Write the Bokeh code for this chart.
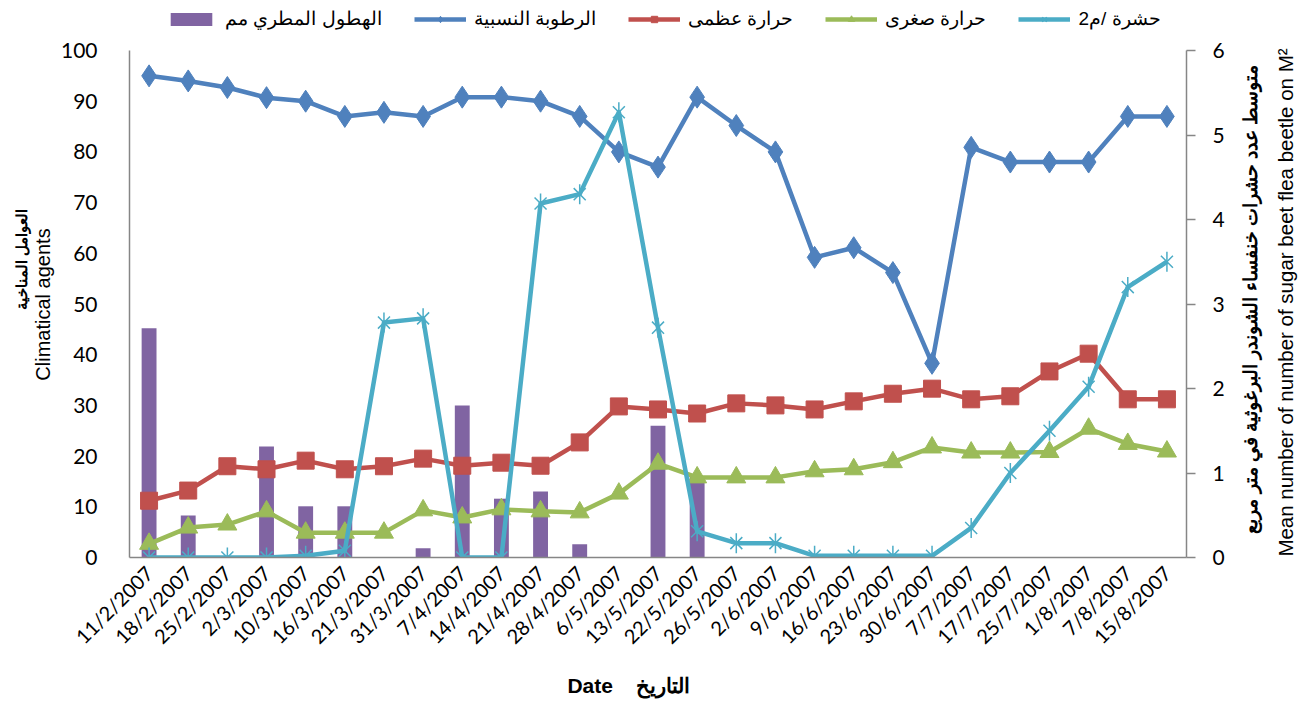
import math
from bokeh.plotting import figure
from bokeh.layouts import row
from bokeh.models import (FactorRange, Range1d, LinearAxis, FixedTicker, Legend, LegendItem, Label)
from bokeh.embed import file_html
from bokeh.resources import INLINE

dates = ["11/2/2007", "18/2/2007", "25/2/2007", "2/3/2007", "10/3/2007", "16/3/2007",
         "21/3/2007", "31/3/2007", "7/4/2007", "14/4/2007", "21/4/2007", "28/4/2007",
         "6/5/2007", "13/5/2007", "22/5/2007", "26/5/2007", "2/6/2007", "9/6/2007",
         "16/6/2007", "23/6/2007", "30/6/2007", "7/7/2007", "17/7/2007", "25/7/2007",
         "1/8/2007", "7/8/2007", "15/8/2007"]

rainfall = [45.2, 8.3, 0, 21.9, 10.1, 10.1, 0, 1.8, 30, 11.6, 13, 2.6, 0, 26, 16,
            0, 0, 0, 0, 0, 0, 0, 0, 0, 0, 0, 0]
humidity = [95, 94, 92.7, 90.7, 90, 87, 87.8, 87, 90.8, 90.8, 90, 87, 80, 77, 90.8,
            85.2, 80, 59.2, 61.1, 56.2, 38.3, 80.9, 78, 78, 78, 87, 87]
max_temp = [11.2, 13.2, 18, 17.4, 19.1, 17.4, 18, 19.5, 18.1, 18.7, 18.1, 22.7, 29.8,
            29.2, 28.4, 30.4, 30, 29.2, 30.8, 32.3, 33.3, 31.2, 31.8, 36.7, 40.2, 31.2, 31.2]
min_temp = [2.7, 5.9, 6.5, 9.1, 4.9, 4.9, 4.9, 9.3, 7.9, 9.5, 9.1, 8.9, 12.6, 18.5,
            15.8, 15.8, 15.8, 17.0, 17.4, 18.8, 21.7, 20.7, 20.7, 20.8, 25.4, 22.4, 20.9]
insects = [0, 0, 0, 0, 0.02, 0.08, 2.78, 2.83, 0, 0, 4.19, 4.3, 5.27, 2.72, 0.31,
           0.17, 0.17, 0.02, 0.02, 0.02, 0.02, 0.35, 1.0, 1.5, 2.02, 3.2, 3.5]

left_ticks = [0, 10, 20, 30, 40, 50, 60, 70, 80, 90, 100]
right_ticks = [0, 1, 2, 3, 4, 5, 6]
left_max, right_max = 100, 6

names = ["الهطول المطري مم", "الرطوبة النسبية", "حرارة عظمى", "حرارة صغرى", "حشرة /م2"]
left_title_ar = "العوامل المناخية"
left_title_en = "Climatical agents"
right_title_ar = "متوسط  عدد حشرات خنفساء الشوندر البرغوثية في متر مربع"
right_title_en = "Mean number of number of sugar beet flea beetle on M²"
x_title = "Date\u00a0\u00a0\u00a0\u00a0التاريخ" + "\u00a0" * 10

PURPLE = "#8064A2"
BLUE = "#4F81BD"
RED = "#C0504D"
GREEN = "#9BBB59"
CYAN = "#4BACC6"
AXIS = "#868686"

# ---- layout in page pixels ----
H = 700
LW, RW = 55, 65            # side strips that carry the rotated axis titles
MW = 1180                  # main figure width (page x 55 .. 1235)
FL, FR, FB = 129, 1186, 557
AXIS_TOP = 50              # where the top of the value axes sits
FT = 0                     # frame extended to the top so the legend can sit inside it
scale = (FB - FT) / (FB - AXIS_TOP)

p = figure(width=MW, height=H, x_range=FactorRange(factors=dates),
           y_range=Range1d(0, left_max * scale),
           output_backend="svg", toolbar_location=None,
           min_border_left=FL - LW, min_border_right=LW + MW - FR, min_border_top=FT,
           min_border_bottom=H - FB)
p.extra_y_ranges = {"right": Range1d(0, right_max * scale)}
p.outline_line_color = None
p.xgrid.grid_line_color = None
p.ygrid.grid_line_color = None

bars = p.vbar(x=dates, top=rainfall, width=0.38, fill_color=PURPLE, line_color=None)
l_h = p.line(dates, humidity, line_color=BLUE, line_width=4.5, line_join="round")
m_h = p.scatter(dates, humidity, marker="diamond", size=22, fill_color=BLUE, line_color=BLUE)
l_mx = p.line(dates, max_temp, line_color=RED, line_width=4.5, line_join="round")
m_mx = p.scatter(dates, max_temp, marker="square", size=17, fill_color=RED, line_color=RED)
l_mn = p.line(dates, min_temp, line_color=GREEN, line_width=4.5, line_join="round")
m_mn = p.scatter(dates, min_temp, marker="triangle", size=19, fill_color=GREEN, line_color=GREEN)
l_i = p.line(dates, insects, line_color=CYAN, line_width=4.5, line_join="round", y_range_name="right")
m_i1 = p.scatter(dates, insects, marker="x", size=17, line_color=CYAN, line_width=1.5, y_range_name="right")
m_i2 = p.scatter(dates, insects, marker="dash", size=20, angle=math.pi / 2, line_color=CYAN,
                 line_width=1.5, y_range_name="right")

# x axis
xa = p.xaxis[0]
xa.major_label_orientation = math.pi / 4
xa.major_tick_line_color = None
xa.minor_tick_line_color = None
xa.axis_line_color = AXIS
xa.axis_line_width = 1.5
xa.major_label_text_font = "Lato"
xa.major_label_text_font_size = "20px"
xa.major_label_text_color = "black"
xa.major_label_standoff = 6
xa.axis_label = x_title
xa.axis_label_text_font = "Liberation Sans"
xa.axis_label_text_font_style = "bold"
xa.axis_label_text_font_size = "21px"
xa.axis_label_text_color = "black"
xa.axis_label_standoff = 14

# left axis
ya = p.yaxis[0]
ya.ticker = FixedTicker(ticks=left_ticks)
ya.bounds = (0, left_max)
ya.major_tick_line_color = None
ya.minor_tick_line_color = None
ya.axis_line_color = AXIS
ya.axis_line_width = 1.5
ya.major_label_text_font = "Lato"
ya.major_label_text_font_size = "21px"
ya.major_label_text_color = "black"
ya.major_label_standoff = 26

# right axis
ra = LinearAxis(y_range_name="right", ticker=FixedTicker(ticks=right_ticks), bounds=(0, right_max))
ra.major_tick_line_color = AXIS
ra.major_tick_line_width = 1.5
ra.major_tick_out = 9
ra.major_tick_in = 0
ra.minor_tick_line_color = None
ra.axis_line_color = AXIS
ra.axis_line_width = 1.5
ra.major_label_text_font = "Lato"
ra.major_label_text_font_size = "21px"
ra.major_label_text_color = "black"
ra.major_label_standoff = 17
p.add_layout(ra, "right")

# legend at the top, inside the extended frame
legend = Legend(items=[
    LegendItem(label=names[0], renderers=[bars]),
    LegendItem(label=names[1], renderers=[l_h, m_h]),
    LegendItem(label=names[2], renderers=[l_mx, m_mx]),
    LegendItem(label=names[3], renderers=[l_mn, m_mn]),
    LegendItem(label=names[4], renderers=[l_i, m_i1, m_i2]),
], orientation="horizontal", location=(36, FB - 30), glyph_width=52, glyph_height=16,
    label_standoff=8, spacing=32, padding=2, margin=0, border_line_color=None,
    background_fill_alpha=0, label_text_font="Liberation Sans", label_text_font_size="19px",
    label_text_color="black")
p.add_layout(legend, "center")


def strip(width):
    f = figure(width=width, height=H, output_backend="svg", toolbar_location=None,
               x_axis_type=None, y_axis_type=None, min_border=0)
    f.outline_line_color = None
    f.xgrid.grid_line_color = None
    f.ygrid.grid_line_color = None
    return f


def title(f, text, x, y_page, size, style):
    # the strips' frames line up with the main frame (top 0, bottom FB)
    f.add_layout(Label(x=x, y=FB - y_page, x_units="screen", y_units="screen", text=text,
                       angle=math.pi / 2, text_align="center", text_baseline="middle",
                       text_font="Liberation Sans", text_font_size=size,
                       text_font_style=style, text_color="black"))


left = strip(LW)
title(left, left_title_ar, 21, 259, "15px", "bold")
title(left, left_title_en, 42, 304, "20px", "normal")

right = strip(RW)
title(right, right_title_ar, 1250 - (LW + MW), 296, "19px", "bold")
title(right, right_title_en, 1285 - (LW + MW), 302, "20.5px", "normal")

layout = row(left, p, right, spacing=0)
open("out.html", "w").write(file_html(layout, INLINE))
